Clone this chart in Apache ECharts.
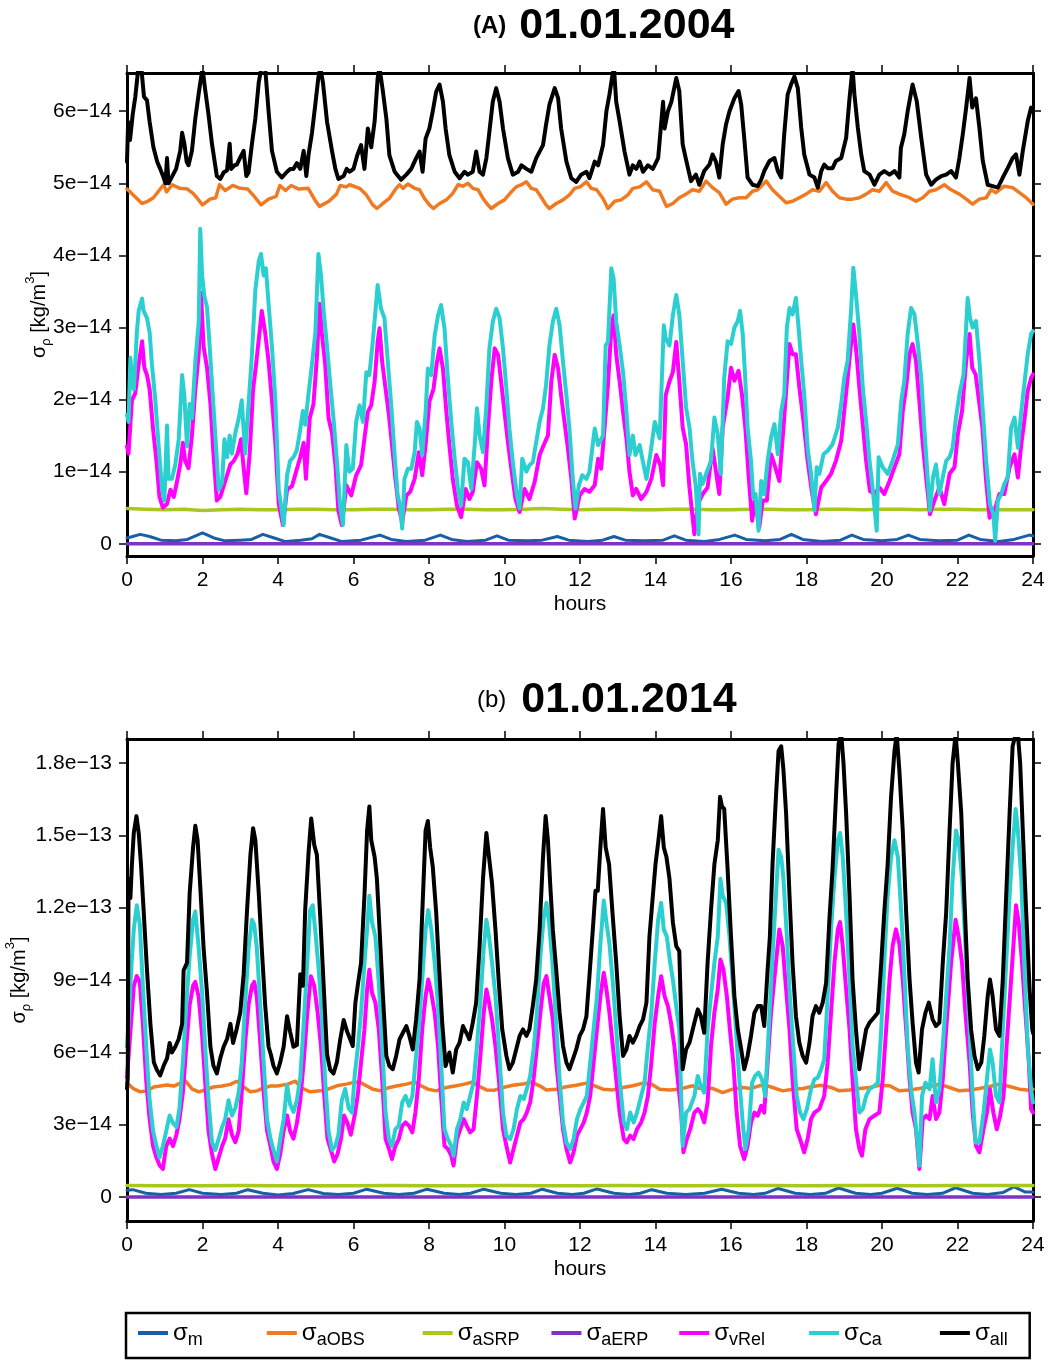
<!DOCTYPE html>
<html><head><meta charset="utf-8">
<script src="https://cdn.jsdelivr.net/npm/echarts@6/dist/echarts.min.js"></script>
<style>html,body{margin:0;padding:0;background:#fff}#c{width:1048px;height:1361px}</style>
</head><body><div id="c"></div>
<script>
const FONT = "'Liberation Sans', Arial, Helvetica, sans-serif";

// ---- ticks / labels ----
const X_TICK_INTERVAL = 2;
const A_Y_TICKS = [0, 1, 2, 3, 4, 5, 6];                 // units of 1e-14
const A_Y_LABELS = ['0', '1e\u221214', '2e\u221214', '3e\u221214', '4e\u221214', '5e\u221214', '6e\u221214'];
const B_Y_TICKS = [0, 3, 6, 9, 12, 15, 18];
const B_Y_LABELS = ['0', '3e\u221214', '6e\u221214', '9e\u221214', '1.2e\u221213', '1.5e\u221213', '1.8e\u221213'];
const TITLES = [['(A)', '01.01.2004'], ['(b)', '01.01.2014']];
const SERIES_KEYS = ['m', 'aOBS', 'aSRP', 'aERP', 'vRel', 'Ca', 'all'];
const COLORS = ['#1a5fa5', '#f07a22', '#a9c81e', '#7e33c4', '#ff00ff', '#2ccfd0', '#000000'];

// ---- panel A data: [hours, value in 1e-14 kg/m^3] ----
const A_m = [[0,0.08],[0.15,0.1],[0.35,0.13],[0.6,0.1],[0.9,0.05],[1.3,0.04],[1.6,0.06],[2.0,0.15],[2.3,0.08],[2.6,0.04],[3.0,0.05],[3.3,0.06],[3.6,0.13],[3.9,0.08],[4.2,0.03],[4.6,0.05],[4.9,0.07],[5.1,0.13],[5.4,0.08],[5.7,0.03],[6.2,0.05],[6.7,0.12],[7.0,0.06],[7.4,0.03],[7.9,0.05],[8.3,0.12],[8.6,0.06],[9.0,0.03],[9.5,0.05],[9.8,0.11],[10.1,0.05],[10.6,0.04],[11.0,0.05],[11.4,0.1],[11.7,0.05],[12.2,0.03],[12.6,0.05],[12.9,0.1],[13.2,0.05],[13.7,0.04],[14.2,0.05],[14.5,0.11],[14.8,0.05],[15.3,0.03],[15.7,0.06],[16.1,0.12],[16.4,0.06],[16.9,0.04],[17.3,0.06],[17.6,0.13],[17.9,0.06],[18.4,0.03],[18.9,0.05],[19.2,0.12],[19.5,0.06],[20.0,0.04],[20.4,0.06],[20.7,0.12],[21.0,0.06],[21.5,0.04],[22.0,0.05],[22.3,0.12],[22.6,0.06],[23.1,0.03],[23.5,0.06],[23.9,0.12],[24,0.11]];
const A_aOBS = [[0,4.92],[0.2,4.82],[0.4,4.72],[0.55,4.75],[0.7,4.8],[0.85,4.9],[0.97,4.98],[1.05,4.88],[1.2,4.98],[1.4,4.93],[1.6,4.92],[1.75,4.86],[1.85,4.8],[2.0,4.7],[2.2,4.78],[2.35,4.8],[2.45,4.98],[2.6,4.9],[2.8,4.97],[3.0,4.93],[3.2,4.92],[3.4,4.8],[3.55,4.7],[3.75,4.78],[3.95,4.82],[4.05,4.97],[4.2,4.9],[4.35,4.97],[4.55,4.92],[4.8,4.93],[5.0,4.75],[5.1,4.68],[5.35,4.75],[5.55,4.85],[5.65,4.97],[5.8,4.95],[5.9,4.98],[6.16,4.93],[6.34,4.84],[6.51,4.7],[6.62,4.65],[6.78,4.72],[6.95,4.79],[7.13,4.93],[7.22,4.98],[7.31,4.93],[7.44,4.99],[7.62,4.93],[7.75,4.91],[7.88,4.79],[8.01,4.7],[8.12,4.65],[8.28,4.72],[8.46,4.77],[8.63,4.86],[8.77,4.98],[8.9,4.96],[9.03,5.0],[9.16,4.93],[9.3,4.91],[9.43,4.79],[9.56,4.7],[9.65,4.65],[9.83,4.72],[10.0,4.77],[10.18,4.88],[10.31,4.95],[10.45,4.98],[10.58,5.02],[10.71,4.93],[10.84,4.91],[10.97,4.81],[11.1,4.7],[11.19,4.65],[11.37,4.72],[11.55,4.77],[11.72,4.84],[11.86,4.93],[12.0,4.95],[12.17,5.02],[12.3,4.93],[12.44,4.91],[12.61,4.79],[12.74,4.65],[12.92,4.75],[13.09,4.77],[13.27,4.84],[13.4,4.93],[13.58,4.95],[13.76,5.02],[13.93,4.91],[14.11,4.89],[14.29,4.68],[14.46,4.72],[14.63,4.8],[14.81,4.85],[14.98,4.91],[15.16,4.89],[15.34,5.03],[15.51,4.94],[15.69,4.87],[15.87,4.71],[16.04,4.78],[16.22,4.8],[16.4,4.8],[16.57,4.89],[16.71,4.91],[16.93,5.03],[17.1,4.91],[17.28,4.82],[17.46,4.73],[17.63,4.75],[17.81,4.8],[17.99,4.85],[18.16,4.91],[18.34,4.89],[18.52,5.01],[18.69,4.89],[18.87,4.8],[19.05,4.78],[19.22,4.78],[19.4,4.8],[19.58,4.85],[19.75,4.91],[19.93,4.89],[20.11,5.01],[20.28,4.89],[20.46,4.85],[20.73,4.8],[20.9,4.75],[21.08,4.8],[21.26,4.89],[21.43,4.91],[21.65,4.98],[21.83,4.91],[22.05,4.85],[22.23,4.78],[22.4,4.71],[22.58,4.78],[22.76,4.8],[22.89,4.91],[23.02,4.87],[23.24,4.96],[23.46,4.94],[23.64,4.87],[23.82,4.8],[24.0,4.71]];
const A_aSRP = [[0,0.49],[0.5,0.48],[1,0.47],[1.5,0.48],[2,0.46],[2.5,0.47],[3,0.48],[3.5,0.47],[4,0.47],[4.5,0.48],[5,0.48],[5.5,0.47],[6,0.47],[6.5,0.48],[7,0.48],[7.5,0.47],[8,0.47],[8.5,0.48],[9,0.48],[9.5,0.47],[10,0.47],[10.5,0.48],[11,0.49],[11.5,0.48],[12,0.47],[12.5,0.48],[13,0.48],[13.5,0.47],[14,0.47],[14.5,0.48],[15,0.48],[15.5,0.47],[16,0.47],[16.5,0.48],[17,0.48],[17.5,0.47],[18,0.47],[18.5,0.48],[19,0.48],[19.5,0.47],[20,0.48],[20.5,0.48],[21,0.47],[21.5,0.48],[22,0.48],[22.5,0.47],[23,0.47],[23.5,0.47],[24,0.47]];
const A_aERP = [[0,0],[6,0],[12,0],[18,0],[24,0]];
const A_vRel = [[0,1.35],[0.04,1.25],[0.13,1.99],[0.22,2.09],[0.31,2.49],[0.4,2.81],[0.46,2.44],[0.53,2.34],[0.6,2.14],[0.69,1.59],[0.78,1.15],[0.86,0.65],[0.95,0.5],[1.06,0.55],[1.15,0.75],[1.24,0.65],[1.32,0.85],[1.41,1.1],[1.48,1.4],[1.54,1.15],[1.63,1.05],[1.72,1.5],[1.81,2.14],[1.9,2.63],[1.96,3.48],[2.03,2.73],[2.12,2.44],[2.21,1.94],[2.29,1.25],[2.38,0.6],[2.47,0.65],[2.56,0.8],[2.65,0.95],[2.74,1.1],[2.83,1.15],[2.93,1.25],[3.02,1.45],[3.09,1.05],[3.16,0.7],[3.25,1.25],[3.34,2.14],[3.42,2.49],[3.51,2.93],[3.57,3.23],[3.66,2.93],[3.75,2.53],[3.84,1.99],[3.93,1.4],[4.02,0.55],[4.13,0.26],[4.24,0.75],[4.37,0.8],[4.48,1.0],[4.59,1.2],[4.68,1.4],[4.74,0.9],[4.84,1.74],[4.94,1.94],[5.03,2.58],[5.1,3.33],[5.16,2.93],[5.25,2.49],[5.34,1.74],[5.43,1.54],[5.52,1.1],[5.6,0.46],[5.69,0.26],[5.81,0.81],[5.94,0.67],[6.07,0.95],[6.2,1.09],[6.29,1.46],[6.38,1.83],[6.47,1.92],[6.56,2.25],[6.64,2.8],[6.69,2.99],[6.76,2.52],[6.85,2.15],[6.94,1.78],[7.02,1.37],[7.11,0.9],[7.2,0.49],[7.29,0.3],[7.4,0.67],[7.5,0.72],[7.62,0.9],[7.73,1.27],[7.82,0.95],[7.91,1.37],[8.01,1.97],[8.12,2.15],[8.21,2.52],[8.28,2.71],[8.37,2.43],[8.46,1.83],[8.54,1.37],[8.63,0.9],[8.74,0.53],[8.85,0.37],[8.97,0.76],[9.07,0.62],[9.16,0.72],[9.27,1.13],[9.38,1.04],[9.47,0.81],[9.56,1.6],[9.65,2.25],[9.74,2.71],[9.83,2.62],[9.91,2.25],[10.0,1.83],[10.09,1.41],[10.18,1.04],[10.29,0.62],[10.4,0.44],[10.53,0.76],[10.66,0.62],[10.8,0.86],[10.93,1.23],[11.04,1.37],[11.15,1.5],[11.24,2.25],[11.33,2.62],[11.42,2.43],[11.5,2.06],[11.59,1.69],[11.68,1.32],[11.77,0.9],[11.86,0.35],[11.99,0.67],[12.12,0.76],[12.25,0.72],[12.39,0.81],[12.48,1.18],[12.56,1.04],[12.65,1.6],[12.74,2.2],[12.83,2.99],[12.89,3.17],[12.96,2.62],[13.05,2.25],[13.14,1.83],[13.23,1.46],[13.31,1.0],[13.4,0.67],[13.49,0.76],[13.62,0.62],[13.76,0.72],[13.89,0.9],[14.02,1.23],[14.13,1.09],[14.2,0.81],[14.27,2.06],[14.37,2.25],[14.46,2.38],[14.55,2.8],[14.63,2.26],[14.72,1.61],[14.81,1.38],[14.9,0.78],[15.03,0.13],[15.12,0.55],[15.25,0.69],[15.38,0.78],[15.51,1.33],[15.6,1.01],[15.69,0.69],[15.78,1.61],[15.91,2.03],[16.0,2.44],[16.09,2.26],[16.2,2.4],[16.29,2.07],[16.38,1.61],[16.47,0.92],[16.56,0.32],[16.64,0.6],[16.75,0.23],[16.84,0.6],[16.95,0.6],[17.06,1.24],[17.15,1.1],[17.28,0.87],[17.39,1.61],[17.48,2.26],[17.55,2.77],[17.63,2.63],[17.72,2.63],[17.81,2.17],[17.92,1.7],[18.03,1.15],[18.15,0.69],[18.25,0.41],[18.39,0.78],[18.52,0.87],[18.65,0.97],[18.78,1.15],[18.92,1.43],[19.0,1.84],[19.09,2.3],[19.18,2.77],[19.24,3.04],[19.31,2.72],[19.4,2.17],[19.49,1.66],[19.58,1.15],[19.68,0.73],[19.8,0.69],[19.93,0.78],[20.06,0.69],[20.2,0.87],[20.33,1.06],[20.46,1.24],[20.55,1.84],[20.64,2.17],[20.73,2.63],[20.81,2.77],[20.9,2.54],[20.99,1.98],[21.08,1.38],[21.17,0.92],[21.27,0.41],[21.39,0.6],[21.52,0.78],[21.65,0.55],[21.79,0.97],[21.92,1.06],[22.01,1.52],[22.12,1.84],[22.23,2.54],[22.32,2.91],[22.39,2.44],[22.48,2.35],[22.57,1.98],[22.66,1.61],[22.75,0.92],[22.85,0.36],[22.98,0.46],[23.11,0.69],[23.24,0.69],[23.38,1.06],[23.51,1.24],[23.6,0.92],[23.69,1.38],[23.77,1.7],[23.86,2.12],[23.95,2.3],[24.0,2.35]];
const A_Ca = [[0,1.79],[0.04,1.69],[0.09,2.58],[0.13,2.35],[0.18,2.14],[0.22,2.5],[0.26,2.93],[0.31,3.23],[0.4,3.4],[0.44,3.23],[0.53,3.13],[0.6,2.93],[0.66,2.49],[0.75,1.99],[0.84,1.35],[0.93,0.75],[0.99,0.6],[1.06,1.64],[1.1,0.9],[1.19,0.9],[1.28,1.1],[1.37,1.45],[1.46,2.34],[1.52,2.04],[1.59,1.35],[1.66,1.94],[1.72,1.74],[1.81,2.53],[1.9,3.08],[1.94,4.37],[1.99,3.72],[2.05,3.43],[2.12,3.28],[2.19,2.73],[2.25,2.24],[2.34,1.5],[2.43,0.75],[2.52,0.85],[2.58,1.45],[2.65,1.2],[2.72,1.5],[2.78,1.25],[2.87,1.54],[2.96,1.74],[3.04,1.99],[3.13,1.25],[3.22,1.94],[3.31,2.63],[3.4,3.52],[3.49,3.92],[3.55,4.02],[3.62,3.72],[3.68,3.82],[3.75,3.33],[3.84,2.73],[3.93,1.99],[4.02,0.75],[4.1,0.46],[4.15,0.26],[4.24,0.95],[4.32,1.15],[4.41,1.2],[4.5,1.3],[4.59,1.59],[4.66,1.84],[4.72,1.65],[4.81,2.09],[4.9,2.49],[4.99,2.93],[5.07,4.02],[5.14,3.72],[5.21,3.23],[5.3,2.73],[5.38,2.24],[5.47,1.74],[5.56,1.15],[5.65,0.5],[5.72,0.26],[5.81,1.37],[5.89,1.0],[5.98,1.04],[6.07,1.69],[6.16,1.92],[6.25,1.69],[6.34,2.38],[6.42,2.34],[6.51,2.8],[6.58,3.22],[6.64,3.59],[6.73,3.26],[6.82,3.13],[6.91,2.52],[7.0,1.92],[7.09,1.23],[7.17,0.67],[7.23,0.53],[7.29,0.21],[7.35,0.9],[7.44,1.04],[7.53,1.04],[7.62,1.27],[7.68,1.69],[7.75,1.6],[7.82,1.23],[7.91,1.83],[7.97,2.43],[8.06,2.34],[8.15,2.89],[8.24,3.17],[8.32,3.31],[8.41,2.99],[8.5,2.29],[8.59,1.69],[8.68,1.18],[8.77,0.76],[8.85,0.53],[8.94,1.18],[9.03,1.13],[9.12,0.76],[9.21,1.37],[9.27,1.88],[9.34,1.5],[9.43,1.27],[9.52,1.92],[9.6,2.71],[9.69,3.08],[9.78,3.26],[9.87,3.13],[9.96,2.71],[10.05,2.15],[10.13,1.6],[10.22,1.13],[10.33,0.67],[10.4,0.49],[10.47,1.18],[10.58,1.0],[10.66,1.09],[10.75,1.13],[10.84,1.41],[10.93,1.69],[11.02,1.88],[11.1,2.2],[11.19,2.75],[11.28,3.08],[11.37,3.26],[11.46,3.03],[11.55,2.52],[11.64,2.06],[11.72,1.6],[11.81,0.9],[11.88,0.49],[11.97,0.81],[12.06,0.95],[12.17,0.9],[12.25,1.0],[12.39,1.6],[12.48,1.37],[12.61,1.5],[12.68,2.75],[12.74,2.8],[12.83,3.82],[12.89,3.68],[12.96,3.08],[13.05,2.75],[13.14,2.38],[13.23,1.83],[13.31,1.23],[13.4,1.5],[13.47,1.23],[13.58,1.37],[13.67,1.13],[13.76,0.9],[13.86,1.23],[13.98,1.69],[14.11,1.46],[14.22,3.03],[14.27,2.85],[14.37,2.75],[14.46,3.17],[14.55,3.45],[14.63,3.18],[14.72,2.54],[14.81,1.89],[14.9,1.61],[14.98,1.15],[15.07,0.78],[15.14,0.13],[15.18,0.97],[15.25,0.83],[15.34,0.97],[15.47,1.15],[15.56,1.75],[15.65,1.52],[15.73,0.97],[15.82,2.3],[15.91,2.81],[16.0,2.77],[16.09,3.0],[16.18,3.09],[16.24,3.23],[16.31,2.91],[16.38,2.26],[16.44,1.61],[16.53,1.15],[16.59,0.64],[16.65,0.69],[16.73,0.18],[16.8,0.87],[16.88,0.69],[16.97,1.15],[17.06,1.47],[17.15,1.66],[17.24,1.24],[17.33,1.84],[17.41,2.07],[17.48,3.0],[17.55,3.27],[17.63,3.18],[17.72,3.41],[17.79,3.0],[17.86,2.54],[17.94,2.07],[18.03,1.33],[18.12,0.97],[18.21,0.46],[18.27,1.06],[18.34,0.97],[18.45,1.24],[18.56,1.29],[18.69,1.38],[18.83,1.61],[18.92,1.94],[19.0,2.3],[19.09,2.54],[19.18,3.23],[19.24,3.83],[19.31,3.46],[19.4,2.91],[19.49,2.17],[19.58,1.7],[19.67,1.15],[19.75,0.78],[19.86,0.18],[19.91,1.2],[20.02,1.06],[20.15,0.97],[20.28,1.15],[20.42,1.38],[20.51,1.98],[20.59,2.26],[20.68,2.91],[20.77,3.27],[20.86,3.18],[20.95,2.77],[21.04,2.3],[21.12,1.61],[21.21,0.92],[21.27,0.46],[21.35,0.92],[21.43,1.1],[21.52,0.69],[21.61,0.92],[21.7,1.15],[21.79,1.2],[21.87,1.33],[21.96,1.75],[22.05,2.07],[22.16,2.35],[22.27,3.41],[22.33,3.14],[22.4,3.0],[22.49,3.09],[22.58,2.54],[22.67,1.84],[22.76,1.15],[22.86,0.55],[22.95,0.41],[23.0,0.04],[23.07,0.6],[23.16,0.69],[23.24,0.83],[23.33,0.92],[23.42,1.61],[23.51,1.75],[23.6,1.33],[23.69,1.84],[23.77,2.21],[23.86,2.63],[23.95,2.91],[24.0,2.95]];
const A_all = [[0,5.3],[0.03,5.85],[0.08,5.6],[0.15,5.95],[0.22,6.2],[0.3,6.6],[0.38,6.6],[0.45,6.2],[0.53,6.15],[0.6,5.85],[0.7,5.5],[0.8,5.3],[0.88,5.2],[0.97,5.08],[1.02,5.0],[1.06,5.35],[1.1,5.0],[1.2,5.1],[1.3,5.2],[1.41,5.45],[1.46,5.7],[1.52,5.55],[1.58,5.3],[1.63,5.25],[1.72,5.45],[1.81,5.9],[1.9,6.25],[2.0,6.6],[2.07,6.3],[2.16,5.95],[2.25,5.55],[2.38,5.1],[2.47,5.06],[2.56,5.15],[2.65,5.18],[2.72,5.55],[2.76,5.2],[2.85,5.25],[2.91,5.26],[3.0,5.36],[3.09,5.45],[3.16,5.1],[3.22,5.15],[3.31,5.55],[3.4,5.9],[3.49,6.4],[3.56,6.6],[3.66,6.6],[3.75,6.0],[3.84,5.45],[3.97,5.16],[4.1,5.08],[4.24,5.16],[4.33,5.2],[4.41,5.2],[4.5,5.28],[4.59,5.2],[4.68,5.45],[4.75,5.1],[4.81,5.4],[4.9,5.7],[4.99,6.1],[5.07,6.47],[5.12,6.6],[5.19,6.4],[5.3,5.85],[5.43,5.45],[5.52,5.2],[5.6,5.06],[5.74,5.1],[5.82,5.2],[5.9,5.16],[6.0,5.2],[6.1,5.39],[6.2,5.53],[6.29,5.2],[6.38,5.76],[6.47,5.5],[6.56,5.86],[6.64,6.46],[6.69,6.6],[6.78,6.27],[6.87,5.9],[6.95,5.39],[7.09,5.16],[7.26,5.05],[7.4,5.12],[7.53,5.2],[7.66,5.35],[7.75,5.44],[7.83,5.16],[7.91,5.62],[8.01,5.76],[8.1,6.0],[8.19,6.27],[8.28,6.37],[8.37,6.13],[8.44,5.76],[8.54,5.39],[8.68,5.16],[8.81,5.07],[8.94,5.16],[9.03,5.12],[9.16,5.16],[9.25,5.44],[9.34,5.16],[9.43,5.12],[9.52,5.35],[9.59,5.67],[9.69,6.13],[9.78,6.32],[9.87,6.13],[9.96,5.76],[10.09,5.35],[10.22,5.12],[10.36,5.16],[10.45,5.25],[10.58,5.2],[10.71,5.16],[10.84,5.35],[10.93,5.44],[11.02,5.53],[11.1,5.81],[11.19,6.09],[11.33,6.32],[11.42,6.18],[11.5,5.76],[11.64,5.3],[11.77,5.07],[11.9,5.02],[12.03,5.12],[12.17,5.16],[12.25,5.07],[12.39,5.3],[12.48,5.25],[12.61,5.53],[12.7,6.0],[12.78,6.23],[12.86,6.5],[12.9,6.6],[12.96,6.13],[13.05,5.86],[13.18,5.44],[13.31,5.12],[13.4,5.25],[13.49,5.2],[13.58,5.3],[13.67,5.16],[13.8,5.25],[13.93,5.2],[14.07,5.35],[14.2,6.13],[14.24,5.76],[14.33,6.0],[14.42,6.13],[14.55,6.46],[14.63,6.28],[14.72,5.54],[14.8,5.35],[14.94,5.03],[15.07,5.12],[15.16,4.98],[15.29,5.17],[15.43,5.26],[15.51,5.4],[15.6,5.3],[15.69,5.08],[15.78,5.54],[15.87,5.82],[15.96,6.0],[16.09,6.18],[16.2,6.28],[16.27,6.09],[16.35,5.63],[16.44,5.08],[16.57,4.98],[16.71,4.96],[16.8,5.05],[16.88,5.17],[17.02,5.31],[17.15,5.35],[17.24,5.17],[17.33,5.08],[17.41,5.68],[17.5,6.23],[17.59,6.37],[17.68,6.48],[17.77,6.32],[17.86,5.77],[17.94,5.4],[18.08,5.12],[18.21,5.08],[18.3,4.94],[18.39,5.17],[18.47,5.26],[18.56,5.21],[18.69,5.21],[18.78,5.31],[18.92,5.35],[19.05,5.63],[19.14,6.18],[19.22,6.6],[19.27,6.23],[19.36,5.77],[19.45,5.4],[19.53,5.17],[19.67,5.12],[19.8,4.98],[19.93,5.12],[20.06,5.17],[20.2,5.12],[20.33,5.17],[20.46,5.08],[20.5,5.49],[20.59,5.68],[20.68,6.0],[20.81,6.37],[20.92,6.14],[21.04,5.63],[21.17,5.12],[21.3,4.98],[21.43,5.05],[21.57,5.1],[21.7,5.12],[21.83,5.17],[21.96,5.08],[22.05,5.35],[22.14,5.68],[22.23,6.05],[22.32,6.46],[22.39,6.05],[22.49,6.18],[22.58,5.77],[22.67,5.31],[22.8,4.98],[22.93,4.96],[23.07,4.94],[23.2,5.08],[23.33,5.21],[23.46,5.35],[23.55,5.4],[23.64,5.12],[23.73,5.45],[23.86,5.86],[23.95,6.05],[24.0,6.0]];

// ---- panel B data: [hours, value in 1e-14 kg/m^3] ----
const B_m = [[0,0.28],[0.15,0.3],[0.5,0.15],[0.9,0.1],[1.3,0.15],[1.65,0.3],[2.0,0.15],[2.5,0.1],[2.9,0.15],[3.2,0.3],[3.6,0.15],[4.0,0.08],[4.4,0.14],[4.8,0.3],[5.2,0.14],[5.6,0.1],[6.0,0.15],[6.35,0.32],[6.8,0.15],[7.2,0.1],[7.6,0.15],[7.95,0.32],[8.4,0.15],[8.8,0.1],[9.1,0.15],[9.45,0.32],[9.9,0.15],[10.3,0.1],[10.7,0.15],[11.0,0.32],[11.4,0.15],[11.8,0.1],[12.1,0.15],[12.45,0.33],[12.9,0.15],[13.3,0.1],[13.6,0.15],[13.9,0.3],[14.3,0.15],[14.8,0.1],[15.3,0.15],[15.75,0.32],[16.2,0.15],[16.6,0.1],[16.9,0.15],[17.25,0.35],[17.7,0.15],[18.1,0.1],[18.5,0.15],[18.85,0.37],[19.3,0.15],[19.7,0.1],[20.0,0.15],[20.4,0.36],[20.8,0.15],[21.2,0.1],[21.6,0.15],[21.95,0.38],[22.4,0.15],[22.8,0.1],[23.2,0.18],[23.5,0.42],[23.8,0.2],[24,0.2]];
const B_aOBS = [[0,4.72],[0.18,4.48],[0.35,4.36],[0.53,4.4],[0.71,4.56],[0.88,4.6],[1.06,4.64],[1.24,4.6],[1.41,4.72],[1.54,4.83],[1.72,4.48],[1.9,4.36],[2.07,4.44],[2.29,4.56],[2.52,4.6],[2.74,4.67],[2.91,4.8],[3.09,4.56],[3.27,4.36],[3.44,4.4],[3.62,4.52],[3.8,4.6],[3.97,4.6],[4.24,4.67],[4.46,4.8],[4.63,4.52],[4.85,4.36],[5.12,4.4],[5.34,4.48],[5.56,4.61],[5.81,4.68],[5.98,4.74],[6.16,4.77],[6.34,4.61],[6.51,4.47],[6.73,4.4],[6.95,4.54],[7.17,4.61],[7.4,4.68],[7.62,4.77],[7.79,4.61],[7.97,4.47],[8.19,4.4],[8.46,4.54],[8.72,4.61],[8.94,4.68],[9.16,4.77],[9.34,4.58],[9.52,4.44],[9.74,4.43],[9.96,4.54],[10.22,4.63],[10.49,4.68],[10.71,4.77],[10.93,4.61],[11.11,4.44],[11.37,4.47],[11.64,4.57],[11.9,4.63],[12.17,4.72],[12.39,4.61],[12.61,4.47],[12.87,4.44],[13.14,4.54],[13.4,4.61],[13.67,4.72],[13.89,4.68],[14.11,4.47],[14.37,4.44],[14.63,4.47],[14.81,4.54],[14.98,4.61],[15.16,4.5],[15.34,4.54],[15.51,4.5],[15.78,4.33],[16.04,4.47],[16.31,4.54],[16.53,4.5],[16.75,4.61],[16.93,4.63],[17.1,4.54],[17.37,4.4],[17.63,4.47],[17.9,4.5],[18.16,4.58],[18.39,4.63],[18.65,4.54],[18.87,4.4],[19.14,4.44],[19.4,4.5],[19.67,4.54],[19.93,4.63],[20.2,4.61],[20.46,4.4],[20.73,4.44],[20.99,4.5],[21.26,4.58],[21.52,4.68],[21.79,4.54],[22.05,4.4],[22.32,4.44],[22.58,4.5],[22.85,4.58],[23.11,4.68],[23.38,4.58],[23.64,4.47],[23.91,4.43],[24.0,4.47]];
const B_aSRP = [[0,0.47],[1,0.46],[2,0.46],[3,0.47],[4,0.46],[5,0.46],[6,0.46],[7,0.47],[8,0.46],[9,0.46],[10,0.47],[11,0.46],[12,0.46],[13,0.47],[14,0.46],[15,0.46],[16,0.47],[17,0.47],[18,0.46],[19,0.47],[20,0.47],[21,0.46],[22,0.47],[23,0.47],[24,0.47]];
const B_aERP = [[0,0],[6,0],[12,0],[18,0],[24,0]];
const B_vRel = [[0,4.96],[0.09,6.86],[0.18,8.76],[0.26,9.16],[0.34,8.92],[0.42,7.18],[0.51,4.8],[0.6,3.22],[0.69,2.11],[0.78,1.63],[0.86,1.32],[0.95,1.16],[1.04,2.11],[1.13,2.42],[1.22,2.11],[1.31,2.58],[1.39,3.22],[1.48,4.33],[1.57,6.23],[1.66,7.97],[1.75,8.76],[1.81,8.92],[1.9,8.29],[1.99,6.7],[2.07,4.8],[2.16,2.74],[2.25,1.79],[2.34,1.16],[2.43,1.63],[2.52,2.11],[2.6,2.42],[2.69,3.22],[2.78,2.58],[2.87,2.27],[2.96,2.74],[3.04,4.33],[3.13,6.39],[3.22,7.97],[3.31,8.76],[3.37,8.92],[3.44,8.29],[3.53,6.39],[3.62,4.33],[3.71,2.74],[3.8,2.11],[3.88,1.47],[3.97,1.16],[4.06,1.79],[4.15,2.74],[4.24,3.38],[4.32,2.74],[4.41,2.42],[4.5,3.06],[4.59,4.01],[4.68,5.59],[4.77,7.5],[4.87,9.16],[4.96,8.76],[5.05,7.65],[5.14,6.23],[5.22,4.33],[5.31,2.42],[5.4,1.95],[5.49,1.47],[5.58,1.79],[5.67,2.42],[5.75,3.38],[5.84,3.06],[5.93,2.58],[6.03,3.37],[6.11,4.19],[6.2,5.57],[6.29,6.95],[6.36,8.61],[6.42,9.43],[6.49,8.47],[6.58,8.06],[6.67,6.95],[6.76,4.88],[6.85,2.4],[6.94,1.99],[7.02,1.57],[7.11,2.12],[7.2,2.4],[7.29,2.95],[7.38,3.09],[7.47,2.95],[7.56,2.68],[7.64,3.5],[7.73,4.88],[7.82,6.95],[7.91,8.33],[7.98,9.02],[8.06,8.47],[8.15,7.64],[8.24,6.26],[8.32,4.19],[8.41,2.12],[8.5,1.99],[8.59,1.71],[8.65,1.3],[8.74,2.4],[8.83,2.81],[8.92,3.23],[9.0,2.95],[9.09,2.68],[9.18,2.81],[9.27,4.19],[9.36,5.85],[9.45,7.64],[9.52,8.61],[9.59,8.06],[9.67,7.37],[9.76,6.26],[9.85,4.88],[9.96,2.81],[10.05,2.12],[10.15,1.43],[10.24,1.99],[10.33,2.54],[10.42,3.09],[10.51,3.23],[10.59,3.5],[10.68,3.92],[10.77,4.88],[10.86,6.26],[10.95,7.64],[11.04,8.88],[11.11,9.16],[11.19,8.33],[11.28,7.37],[11.37,5.57],[11.46,4.19],[11.55,2.81],[11.64,1.99],[11.74,1.43],[11.83,1.85],[11.92,2.54],[12.01,2.81],[12.1,3.09],[12.18,3.5],[12.27,4.19],[12.36,5.57],[12.45,6.95],[12.54,8.33],[12.63,9.3],[12.7,8.61],[12.78,7.64],[12.87,6.26],[12.96,4.88],[13.05,3.5],[13.16,2.4],[13.24,2.26],[13.33,2.54],[13.42,2.4],[13.51,2.81],[13.62,3.09],[13.71,3.5],[13.8,4.19],[13.89,5.57],[13.98,7.23],[14.07,8.33],[14.15,9.16],[14.24,8.33],[14.33,7.92],[14.41,7.23],[14.5,6.26],[14.59,4.88],[14.68,3.5],[14.74,1.85],[14.83,2.4],[14.92,2.81],[15.03,3.5],[15.12,3.64],[15.2,3.5],[15.29,3.09],[15.38,3.92],[15.47,6.26],[15.56,7.64],[15.65,8.61],[15.72,9.85],[15.8,9.43],[15.89,8.33],[15.97,6.95],[16.06,5.57],[16.15,3.5],[16.24,2.12],[16.35,1.57],[16.44,2.12],[16.53,3.09],[16.62,3.5],[16.71,3.37],[16.8,3.78],[16.88,3.5],[16.97,5.57],[17.06,7.64],[17.19,9.71],[17.28,11.1],[17.37,10.4],[17.46,8.61],[17.55,6.95],[17.63,4.88],[17.74,2.81],[17.83,2.4],[17.94,1.85],[18.03,2.4],[18.12,3.23],[18.21,3.5],[18.34,3.64],[18.47,4.19],[18.56,5.57],[18.65,7.64],[18.74,9.71],[18.83,11.1],[18.89,11.4],[18.96,10.4],[19.05,8.61],[19.14,6.95],[19.22,4.88],[19.31,2.81],[19.4,1.99],[19.47,1.71],[19.56,2.81],[19.67,3.23],[19.8,3.37],[19.93,3.5],[20.02,4.88],[20.11,6.95],[20.2,9.02],[20.28,10.4],[20.37,11.1],[20.46,10.5],[20.55,9.02],[20.64,6.95],[20.73,4.88],[20.81,3.5],[20.9,2.81],[20.99,1.16],[21.08,3.23],[21.17,3.37],[21.26,3.23],[21.34,4.19],[21.43,3.23],[21.52,3.5],[21.61,4.88],[21.7,6.95],[21.83,9.71],[21.95,11.5],[22.03,10.8],[22.12,9.71],[22.21,7.64],[22.32,5.57],[22.4,3.5],[22.49,2.12],[22.58,1.85],[22.69,2.81],[22.78,3.5],[22.86,4.47],[22.95,3.5],[23.04,2.81],[23.13,3.37],[23.22,4.19],[23.3,6.26],[23.39,8.33],[23.48,10.4],[23.55,12.1],[23.62,11.4],[23.71,9.71],[23.8,7.64],[23.89,5.57],[23.95,3.64],[24.0,3.5]];
const B_Ca = [[0,6.23],[0.04,7.18],[0.11,9.4],[0.18,11.1],[0.26,12.1],[0.34,11.3],[0.42,8.76],[0.51,6.23],[0.6,4.01],[0.69,2.74],[0.78,2.11],[0.86,1.63],[0.95,2.11],[1.04,2.74],[1.13,3.38],[1.22,3.06],[1.31,2.9],[1.39,3.69],[1.48,5.59],[1.57,7.97],[1.66,10.0],[1.75,11.5],[1.81,11.85],[1.9,10.3],[1.99,8.45],[2.07,6.23],[2.16,4.01],[2.25,2.27],[2.34,1.95],[2.43,2.42],[2.52,2.9],[2.6,3.22],[2.69,4.01],[2.78,3.38],[2.87,3.69],[2.96,4.33],[3.04,5.59],[3.13,7.97],[3.22,10.3],[3.31,11.5],[3.37,11.3],[3.44,10.3],[3.53,7.97],[3.62,5.59],[3.71,3.22],[3.8,2.42],[3.88,1.95],[3.97,1.47],[4.06,2.42],[4.15,3.22],[4.24,4.64],[4.32,3.85],[4.41,3.53],[4.5,4.01],[4.59,4.96],[4.68,7.18],[4.77,9.56],[4.85,11.9],[4.92,12.1],[4.99,11.0],[5.08,9.4],[5.16,7.5],[5.25,4.8],[5.34,2.74],[5.43,1.95],[5.52,2.11],[5.6,2.58],[5.69,4.01],[5.78,4.48],[5.87,3.69],[5.96,3.5],[6.03,5.02],[6.11,6.12],[6.2,7.64],[6.29,9.71],[6.36,11.1],[6.42,12.5],[6.49,11.4],[6.58,10.8],[6.67,8.88],[6.76,6.26],[6.85,3.5],[6.94,2.4],[7.02,2.12],[7.11,2.81],[7.2,2.95],[7.29,3.92],[7.38,4.19],[7.47,3.78],[7.56,4.19],[7.64,5.57],[7.73,6.95],[7.82,9.02],[7.91,11.1],[7.98,11.9],[8.06,11.1],[8.15,9.71],[8.24,7.92],[8.32,5.57],[8.41,2.81],[8.5,2.4],[8.59,2.12],[8.65,1.71],[8.74,2.81],[8.83,3.23],[8.92,3.92],[9.0,3.64],[9.09,4.19],[9.18,4.74],[9.27,6.26],[9.36,8.06],[9.45,10.3],[9.52,11.5],[9.59,10.8],[9.67,9.71],[9.76,8.33],[9.85,6.26],[9.96,3.5],[10.05,2.54],[10.15,2.4],[10.24,2.81],[10.33,3.64],[10.42,4.19],[10.51,4.06],[10.59,4.47],[10.68,5.02],[10.77,6.12],[10.86,7.64],[10.95,9.99],[11.04,11.6],[11.11,12.2],[11.18,11.4],[11.27,9.71],[11.35,7.64],[11.46,4.88],[11.55,3.09],[11.64,2.26],[11.74,1.99],[11.83,2.4],[11.92,3.23],[12.01,3.64],[12.1,3.92],[12.18,4.19],[12.27,5.57],[12.36,6.95],[12.45,8.33],[12.54,10.5],[12.63,12.3],[12.7,11.4],[12.78,10.5],[12.87,8.88],[12.96,6.95],[13.05,4.88],[13.16,3.09],[13.24,2.81],[13.33,3.5],[13.42,3.09],[13.51,3.5],[13.62,4.19],[13.71,4.74],[13.8,6.26],[13.89,7.64],[13.98,9.71],[14.07,11.5],[14.15,12.2],[14.22,11.1],[14.3,10.8],[14.39,9.71],[14.46,9.02],[14.57,7.64],[14.63,6.95],[14.72,2.12],[14.81,3.5],[14.9,3.64],[15.03,4.19],[15.12,5.02],[15.2,4.61],[15.29,4.33],[15.38,6.95],[15.47,8.33],[15.56,9.71],[15.65,10.8],[15.72,13.2],[15.78,12.5],[15.87,12.2],[15.96,10.8],[16.04,9.02],[16.13,6.95],[16.22,4.88],[16.31,3.09],[16.38,1.99],[16.47,2.81],[16.56,4.74],[16.64,5.02],[16.73,5.16],[16.82,4.88],[16.91,4.19],[17.0,6.95],[17.09,9.71],[17.19,12.5],[17.26,14.4],[17.33,14.1],[17.39,13.2],[17.48,10.8],[17.56,8.33],[17.65,6.26],[17.74,4.19],[17.83,3.5],[17.92,3.23],[18.01,3.64],[18.12,4.47],[18.21,4.88],[18.3,4.95],[18.39,5.3],[18.47,5.71],[18.56,8.33],[18.65,11.1],[18.74,13.2],[18.83,14.8],[18.89,15.1],[18.96,14.1],[19.05,11.8],[19.14,9.02],[19.22,6.26],[19.31,4.88],[19.4,3.5],[19.49,3.64],[19.58,4.19],[19.67,4.47],[19.8,4.61],[19.89,4.74],[19.98,6.95],[20.06,9.71],[20.15,12.5],[20.24,14.1],[20.33,14.8],[20.42,14.1],[20.51,11.8],[20.6,9.02],[20.68,6.26],[20.77,4.47],[20.86,3.5],[20.95,2.12],[20.99,1.3],[21.06,4.19],[21.15,4.74],[21.26,4.47],[21.34,5.71],[21.43,3.92],[21.52,4.47],[21.61,6.26],[21.7,8.33],[21.79,10.4],[21.87,13.2],[21.96,15.2],[22.03,14.8],[22.12,13.2],[22.21,10.4],[22.32,6.95],[22.4,4.19],[22.48,2.26],[22.58,2.26],[22.69,3.5],[22.78,4.88],[22.86,6.12],[22.93,5.57],[23.02,4.19],[23.11,3.92],[23.2,6.95],[23.29,9.71],[23.38,12.5],[23.46,14.5],[23.54,16.1],[23.6,15.2],[23.69,13.2],[23.77,9.71],[23.86,6.26],[23.95,4.47],[24.0,3.92]];
const B_all = [[0,4.5],[0.02,4.96],[0.04,13.2],[0.09,12.4],[0.13,13.8],[0.18,15.1],[0.25,15.8],[0.31,15.1],[0.37,13.8],[0.44,11.9],[0.53,9.4],[0.62,7.18],[0.71,5.59],[0.79,5.28],[0.88,5.04],[0.97,5.44],[1.06,5.75],[1.13,6.39],[1.19,5.99],[1.28,6.23],[1.37,6.55],[1.46,7.18],[1.5,9.4],[1.59,9.71],[1.66,12.6],[1.75,14.5],[1.81,15.4],[1.87,14.8],[1.94,12.9],[2.03,10.3],[2.12,8.45],[2.21,6.23],[2.29,5.44],[2.38,5.12],[2.47,5.75],[2.56,6.23],[2.65,6.55],[2.74,7.18],[2.81,6.39],[2.89,6.86],[3.0,7.65],[3.09,9.24],[3.18,11.9],[3.27,14.2],[3.34,15.3],[3.4,14.8],[3.49,12.6],[3.57,10.3],[3.66,7.97],[3.75,6.23],[3.81,5.91],[3.88,5.44],[3.97,5.12],[4.06,5.59],[4.15,6.23],[4.24,7.5],[4.32,6.86],[4.41,6.23],[4.5,6.3],[4.59,9.24],[4.66,8.76],[4.72,11.9],[4.81,14.3],[4.88,15.7],[4.96,14.6],[5.03,14.2],[5.12,11.6],[5.21,8.76],[5.3,5.91],[5.38,5.28],[5.47,5.12],[5.56,5.59],[5.65,6.55],[5.74,7.34],[5.83,6.86],[5.91,6.55],[5.98,6.26],[6.05,8.06],[6.11,8.74],[6.2,9.71],[6.29,12.5],[6.36,15.2],[6.42,16.2],[6.47,14.8],[6.56,14.1],[6.62,13.2],[6.69,11.1],[6.78,8.33],[6.87,5.85],[6.95,5.43],[7.04,5.3],[7.13,5.85],[7.22,6.54],[7.31,6.81],[7.4,7.09],[7.48,6.68],[7.57,6.12],[7.66,7.37],[7.75,9.02],[7.84,12.5],[7.91,15.2],[7.97,15.6],[8.03,14.5],[8.1,13.7],[8.19,11.8],[8.26,9.71],[8.35,7.23],[8.44,5.43],[8.54,5.99],[8.63,5.16],[8.72,6.12],[8.81,6.4],[8.9,7.09],[8.99,6.81],[9.07,6.54],[9.16,7.23],[9.25,8.06],[9.34,10.4],[9.43,13.2],[9.52,15.1],[9.59,14.1],[9.67,13.0],[9.76,11.1],[9.85,8.88],[9.94,6.95],[10.05,5.85],[10.13,5.3],[10.22,5.57],[10.31,6.12],[10.4,6.68],[10.49,6.95],[10.58,6.68],[10.66,6.95],[10.75,7.92],[10.84,9.02],[10.93,11.1],[11.02,14.1],[11.09,15.8],[11.15,14.8],[11.21,13.0],[11.28,11.1],[11.37,9.43],[11.46,7.64],[11.55,6.26],[11.64,5.57],[11.72,5.3],[11.81,5.71],[11.9,6.12],[11.99,6.68],[12.08,6.95],[12.17,7.5],[12.25,9.16],[12.34,11.1],[12.41,12.7],[12.47,12.7],[12.54,14.5],[12.61,16.1],[12.68,14.5],[12.77,13.8],[12.86,11.8],[12.96,9.71],[13.05,7.5],[13.14,5.85],[13.23,6.12],[13.31,6.68],[13.4,6.4],[13.49,6.68],[13.58,7.09],[13.67,7.37],[13.76,8.06],[13.84,10.8],[13.93,12.5],[14.0,13.8],[14.07,14.7],[14.15,15.8],[14.22,14.5],[14.29,14.1],[14.37,13.2],[14.46,11.4],[14.55,10.4],[14.63,10.2],[14.72,5.3],[14.81,6.12],[14.9,6.4],[15.03,7.23],[15.12,7.78],[15.2,7.5],[15.29,6.81],[15.38,9.71],[15.47,11.9],[15.56,13.8],[15.65,14.8],[15.71,16.6],[15.76,16.2],[15.82,16.1],[15.91,13.6],[16.0,10.8],[16.09,8.33],[16.18,6.95],[16.27,6.12],[16.35,5.3],[16.44,5.85],[16.53,6.68],[16.62,7.64],[16.71,7.92],[16.8,7.92],[16.88,7.09],[16.97,9.43],[17.03,10.8],[17.1,13.8],[17.19,16.6],[17.26,18.5],[17.33,18.7],[17.39,17.7],[17.46,15.9],[17.55,12.5],[17.63,9.71],[17.72,7.5],[17.81,6.4],[17.9,5.85],[17.99,5.57],[18.08,6.4],[18.16,7.5],[18.25,7.92],[18.34,7.64],[18.43,8.06],[18.52,8.88],[18.61,11.6],[18.69,13.6],[18.78,16.6],[18.85,18.8],[18.92,19.2],[18.98,18.0],[19.05,15.9],[19.14,12.5],[19.22,9.02],[19.31,6.95],[19.4,5.3],[19.49,6.12],[19.58,6.95],[19.67,7.23],[19.75,7.37],[19.89,7.64],[19.98,9.71],[20.06,11.8],[20.15,13.8],[20.24,16.6],[20.33,18.5],[20.39,19.2],[20.46,17.7],[20.55,15.2],[20.64,11.8],[20.73,9.02],[20.81,7.23],[20.9,5.57],[20.97,5.16],[21.06,6.95],[21.15,7.64],[21.24,8.06],[21.34,7.37],[21.43,7.09],[21.52,7.23],[21.61,9.71],[21.7,11.8],[21.79,15.2],[21.87,18.0],[21.95,19.2],[22.01,18.0],[22.1,15.9],[22.18,12.5],[22.27,9.02],[22.36,6.95],[22.45,5.85],[22.54,5.3],[22.63,5.57],[22.71,6.68],[22.8,8.33],[22.86,9.02],[22.93,8.33],[23.02,6.95],[23.11,6.68],[23.2,9.02],[23.29,12.5],[23.38,15.9],[23.46,18.7],[23.54,19.2],[23.6,19.2],[23.66,18.0],[23.73,15.2],[23.82,11.8],[23.91,8.6],[23.98,6.95],[24.0,6.8]];

const PANEL_A = [A_m, A_aOBS, A_aSRP, A_aERP, A_vRel, A_Ca, A_all];
const PANEL_B = [B_m, B_aOBS, B_aSRP, B_aERP, B_vRel, B_Ca, B_all];

// ---- styling ----
const LINE_WIDTHS = [3, 3.5, 3.5, 3.5, 4, 4, 4];
const LEGEND_SUB_W = [79, 106, 79, 78, 80, 81, 40];

const chart = echarts.init(document.getElementById('c'), null, {renderer: 'canvas'});

const nameRich = {
  n: {fontSize: 20, fontFamily: FONT, color: '#000', lineHeight: 20, padding: [6, 0, 6, 0], verticalAlign: 'top'},
  sub: {fontSize: 13, fontFamily: FONT, color: '#000', lineHeight: 13, padding: [17, 0, 2, 0], verticalAlign: 'top'},
  sup: {fontSize: 13, fontFamily: FONT, color: '#000', lineHeight: 13, padding: [1, 0, 18, 0], verticalAlign: 'top'}
};
const Y_NAME = '{n|\u03c3}{sub|\u03c1}{n| [kg/m}{sup|3}{n|]}';

const grids = [
  {left: 127, top: 73, width: 906, height: 483, containLabel: false, outerBoundsMode: 'none'},
  {left: 127, top: 739, width: 906, height: 482, containLabel: false, outerBoundsMode: 'none'}
];
const yExtents = [[-0.17, 6.53], [-1.0, 19.0]];
const yTicks = [A_Y_TICKS, B_Y_TICKS];
const yLabels = [A_Y_LABELS, B_Y_LABELS];
const yNameGaps = [84, 104];

const axisLineStyle = {show: true, onZero: false, lineStyle: {color: '#000', width: 3}};
const tickStyle = {show: true, inside: false, length: 8, lineStyle: {color: '#000', width: 1.5}};
const labelFont = {fontSize: 21, fontFamily: FONT, color: '#000'};

const xAxes = [], yAxes = [], series = [];
[0, 1].forEach(gi => {
  xAxes.push({
    gridIndex: gi, type: 'value', position: 'bottom', min: 0, max: 24, interval: X_TICK_INTERVAL,
    axisLine: axisLineStyle, axisTick: tickStyle, splitLine: {show: false},
    axisLabel: Object.assign({margin: 14}, labelFont),
    name: 'hours', nameLocation: 'middle', nameGap: 38, nameMoveOverlap: false,
    nameTextStyle: {fontSize: 21, fontFamily: FONT, color: '#000'}
  });
  xAxes.push({
    gridIndex: gi, type: 'value', position: 'top', min: 0, max: 24, interval: X_TICK_INTERVAL,
    axisLine: axisLineStyle, axisTick: tickStyle, splitLine: {show: false}, axisLabel: {show: false}
  });
  const ticks = yTicks[gi], labels = yLabels[gi];
  yAxes.push({
    gridIndex: gi, type: 'value', position: 'left', min: yExtents[gi][0], max: yExtents[gi][1],
    axisLine: axisLineStyle, splitLine: {show: false},
    axisTick: Object.assign({customValues: ticks}, tickStyle),
    axisLabel: Object.assign({customValues: ticks, margin: 15,
      formatter: v => { const i = ticks.findIndex(t => Math.abs(t - v) < 1e-9); return i >= 0 ? labels[i] : ''; }}, labelFont),
    name: Y_NAME, nameLocation: 'middle', nameRotate: 90, nameGap: yNameGaps[gi], nameMoveOverlap: false,
    nameTextStyle: {rich: nameRich}
  });
  yAxes.push({
    gridIndex: gi, type: 'value', position: 'right', min: yExtents[gi][0], max: yExtents[gi][1],
    axisLine: axisLineStyle, splitLine: {show: false},
    axisTick: Object.assign({customValues: ticks}, tickStyle),
    axisLabel: {show: false}
  });
  const panel = gi === 0 ? PANEL_A : PANEL_B;
  SERIES_KEYS.forEach((k, i) => {
    series.push({
      name: '\u03c3' + k, type: 'line', xAxisIndex: gi * 2, yAxisIndex: gi * 2,
      data: panel[i], showSymbol: false, symbol: 'none', clip: true,
      lineStyle: {color: COLORS[i], width: LINE_WIDTHS[i], join: 'round', cap: 'round'},
      itemStyle: {color: COLORS[i]}, z: 2 + i, animation: false
    });
  });
});

const legendRich = {
  s: {fontSize: 24, fontFamily: FONT, color: '#000', lineHeight: 24, padding: [0, 0, 5, 0], verticalAlign: 'top'}
};
SERIES_KEYS.forEach((k, i) => {
  legendRich['sub' + i] = {fontSize: 18, fontFamily: FONT, color: '#000', lineHeight: 18, width: LEGEND_SUB_W[i], align: 'left', padding: [10, 0, 1, 0], verticalAlign: 'top'};
});

const option = {
  backgroundColor: '#fff',
  animation: false,
  title: TITLES.map((t, i) => ({
    left: i === 0 ? 473 : 477, top: i === 0 ? 5 : 679, padding: 0,
    text: '{a|' + t[0] + '}{b|' + t[1] + '}',
    textStyle: {rich: {
      a: {fontSize: 24, fontWeight: i === 0 ? 'bold' : 'normal', fontFamily: FONT, color: '#000', padding: [0, i === 0 ? 13 : 15, 0, 0], verticalAlign: 'middle'},
      b: {fontSize: 43, fontWeight: 'bold', fontFamily: FONT, color: '#000', verticalAlign: 'middle'}
    }}
  })),
  grid: grids,
  xAxis: xAxes,
  yAxis: yAxes,
  legend: {
    left: 126, top: 1313, orient: 'horizontal', itemGap: 0, itemWidth: 30, itemHeight: 4, icon: 'rect',
    padding: [8, 0, 8, 12], borderColor: '#000', borderWidth: 2.5,
    data: SERIES_KEYS.map(k => '\u03c3' + k),
    formatter: name => { const i = SERIES_KEYS.indexOf(name.slice(1)); return '{s|\u03c3}{sub' + i + '|' + name.slice(1) + '}'; },
    textStyle: {rich: legendRich}
  },
  series: series
};
chart.setOption(option);
</script>
</body></html>
